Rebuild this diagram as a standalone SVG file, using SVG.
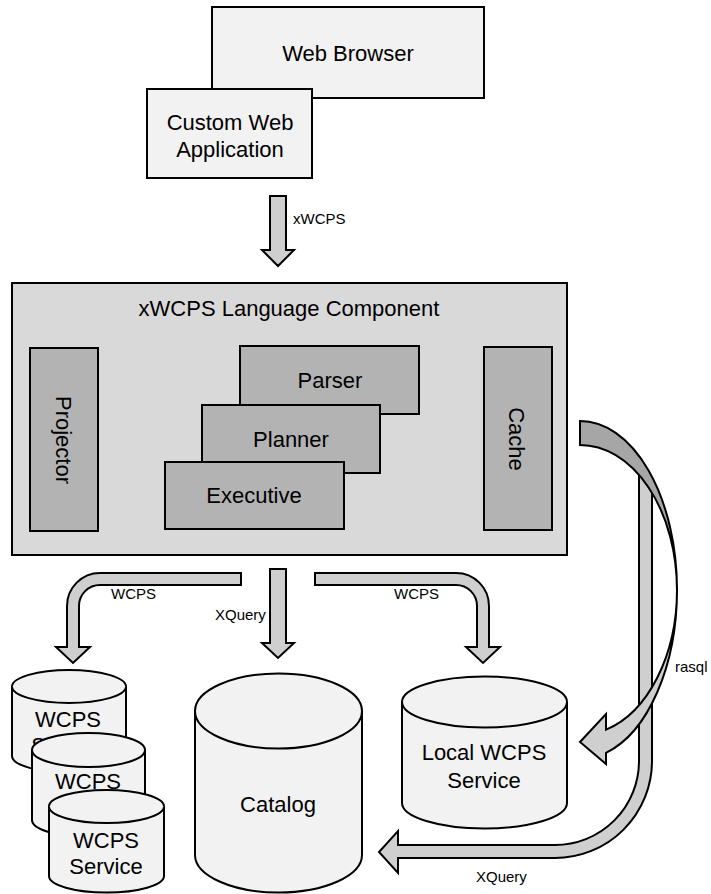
<svg xmlns="http://www.w3.org/2000/svg" width="711" height="894" viewBox="0 0 711 894">
<style>
.box{fill:#f2f2f2;stroke:#000;stroke-width:2}
.main{fill:#d9d9d9;stroke:#000;stroke-width:2}
.inner{fill:#b3b3b3;stroke:#000;stroke-width:2}
.cyl{fill:#f2f2f2;stroke:#000;stroke-width:2}
.arrow{fill:#cfcfcf;stroke:#000;stroke-width:2}
.back{fill:#a6a6a6;stroke:#000;stroke-width:2}
.t{font-family:"Liberation Sans",Arial,sans-serif;font-size:22px;text-anchor:middle;fill:#000}
.lbl{font-family:"Liberation Sans",Arial,sans-serif;font-size:15px;fill:#000}
</style>
<rect width="711" height="894" fill="#fff"/>
<g id="web-browser">
<rect class="box" x="212" y="7" width="272" height="91"/>
<text class="t" x="348" y="61">Web Browser</text>
</g>
<g id="custom-web-application">
<rect class="box" x="147" y="89" width="165" height="89"/>
<text class="t" x="230" y="130">Custom Web</text>
<text class="t" x="230" y="157">Application</text>
</g>
<g id="xwcps-language-component">
<rect class="main" x="12" y="283" width="555" height="272"/>
<text class="t" x="289" y="316">xWCPS Language Component</text>
</g>
<g id="projector">
<rect class="inner" x="30" y="348" width="68" height="183"/>
<text class="t" transform="translate(64,440) rotate(90)" x="0" y="7.7">Projector</text>
</g>
<g id="parser">
<rect class="inner" x="240" y="346" width="179" height="68"/>
<text class="t" x="330" y="388">Parser</text>
</g>
<g id="planner">
<rect class="inner" x="202" y="405" width="178" height="68"/>
<text class="t" x="291" y="447">Planner</text>
</g>
<g id="executive">
<rect class="inner" x="165" y="462" width="179" height="67"/>
<text class="t" x="254" y="503">Executive</text>
</g>
<g id="cache">
<rect class="inner" x="484" y="347" width="68" height="183"/>
<text class="t" transform="translate(517,439) rotate(90)" x="0" y="7.7">Cache</text>
</g>
<g id="wcps-service-1">
<path class="cyl" d="M12,686.5 L12,756 A57,16.5 0 0 0 126,756 L126,686.5 A57,16.5 0 0 0 12,686.5 Z"/>
<path class="cyl" fill="none" d="M12,686.5 A57,16.5 0 0 0 126,686.5"/>
<text class="t" x="68" y="727">WCPS</text>
<text class="t" x="68" y="753">Service</text>
</g>
<g id="wcps-service-2">
<path class="cyl" d="M32,750 L32,820 A56.5,17 0 0 0 145,820 L145,750 A56.5,17 0 0 0 32,750 Z"/>
<path class="cyl" fill="none" d="M32,750 A56.5,17 0 0 0 145,750"/>
<text class="t" x="88" y="789">WCPS</text>
<text class="t" x="88" y="815">Service</text>
</g>
<g id="wcps-service-3">
<path class="cyl" d="M49,806.5 L49,876 A57.5,16.5 0 0 0 164,876 L164,806.5 A57.5,16.5 0 0 0 49,806.5 Z"/>
<path class="cyl" fill="none" d="M49,806.5 A57.5,16.5 0 0 0 164,806.5"/>
<text class="t" x="106" y="848">WCPS</text>
<text class="t" x="106" y="874">Service</text>
</g>
<g id="catalog">
<path class="cyl" d="M195,711 L195,855 A83.5,37.5 0 0 0 362,855 L362,711 A83.5,37.5 0 0 0 195,711 Z"/>
<path class="cyl" fill="none" d="M195,711 A83.5,37.5 0 0 0 362,711"/>
<text class="t" x="278" y="812">Catalog</text>
</g>
<g id="local-wcps-service">
<path class="cyl" d="M402,702 L402,803 A82.5,25.5 0 0 0 567,803 L567,702 A82.5,25.5 0 0 0 402,702 Z"/>
<path class="cyl" fill="none" d="M402,702 A82.5,25.5 0 0 0 567,702"/>
<text class="t" x="484" y="760">Local WCPS</text>
<text class="t" x="484" y="788">Service</text>
</g>
<g id="connectors">
<path class="arrow" d="M270,196 L286,196 L286,250 L294,250 L278,266 L262,250 L270,250 Z"/>
<text class="lbl" x="293" y="224">xWCPS</text>
<path class="arrow" d="M241,573 L100,573 A33,33 0 0 0 67,606 L67,647 L56,647 L73,663 L90,647 L79,647 L79,606 A21,21 0 0 1 100,585 L241,585 Z"/>
<text class="lbl" x="111" y="599">WCPS</text>
<path class="arrow" d="M270,569 L286,569 L286,643 L294,643 L278,658 L262,643 L270,643 Z"/>
<text class="lbl" x="215" y="620">XQuery</text>
<path class="arrow" d="M315,573 L456,573 A33,33 0 0 1 489,606 L489,647 L500,647 L483,663 L466,647 L477,647 L477,606 A21,21 0 0 0 456,585 L315,585 Z"/>
<text class="lbl" x="394" y="599">WCPS</text>
<path class="arrow" d="M639,474 L645.5,482.5 L652,492 L652,761 A97,97 0 0 1 555,858 L398,858 L398,873 L379,852 L398,831 L398,845 L555,845 A84,84 0 0 0 639,761 Z"/>
<text class="lbl" x="476" y="882">XQuery</text>
<path class="back" d="M580,421 A97,169 0 0 1 677,590 A97,145 0 0 0 580,445 Z"/>
<path class="arrow" d="M677,590 A97,169 0 0 1 606,752.8 L606,764 L580,742 L606,714 L606,729.7 A97,145 0 0 0 677,590 Z"/>
<text class="lbl" x="675" y="672">rasql</text>
</g>
</svg>
